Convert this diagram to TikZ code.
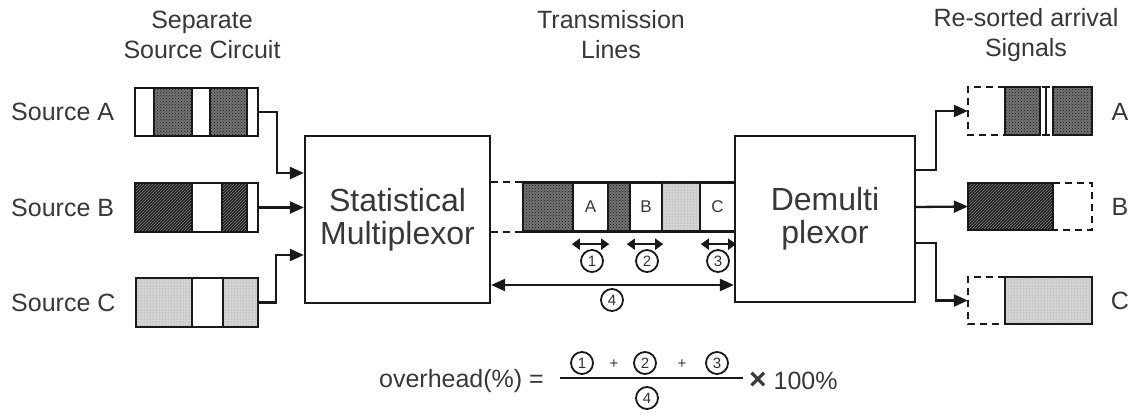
\documentclass[tikz,border=0pt]{standalone}
\usepackage{fontspec}
\setmainfont{Liberation Sans}
\usetikzlibrary{arrows.meta,patterns,calc}
\newcommand\bigfont{\fontsize{25}{30}\selectfont}
\newcommand\hugefont{\fontsize{32}{33}\selectfont}
\newcommand\smallfont{\fontsize{17}{20}\selectfont}
\newcommand\tinyfont{\fontsize{15}{17}\selectfont}
\begin{document}
\begin{tikzpicture}[x=1pt,y=-1pt,
  ln/.style={line width=2.3pt, draw=black!90},
  txt/.style={text=black!78, inner sep=0pt},
  blk/.style={ln, inner sep=0pt, fill=white},
  darkdot/.style={fill=black!55, postaction={pattern=crosshatch dots, pattern color=black!90}},
  darkhatch/.style={fill=black!88, postaction={pattern=north east lines, pattern color=black!50}},
  lightdot/.style={fill=black!17, postaction={pattern=dots, pattern color=black!45}},
  dsh/.style={line width=2.3pt, draw=black!90, dash pattern=on 7pt off 5pt},
  arr/.style={ln, -{Triangle[length=14pt,width=12pt]}},
  barr/.style={ln, {Triangle[length=14pt,width=12pt]}-{Triangle[length=14pt,width=12pt]}},
  sarr/.style={line width=2pt, draw=black!90, {Triangle[length=8pt,width=11pt]}-{Triangle[length=8pt,width=11pt]}},
  circ/.style={circle, draw=black!90, line width=1.8pt, minimum size=22pt, inner sep=0pt, font=\tinyfont, text=black!80}
]
\useasboundingbox (0,0) rectangle (1134,415);
\fill[white] (0,0) rectangle (1134,415);

% headers
\node[txt, align=center, font=\bigfont] (hdrL) at (202,35) {Separate\\Source Circuit};
\node[txt, align=center, font=\bigfont] (hdrM) at (611,35) {Transmission\\Lines};
\node[txt, align=center, font=\bigfont] (hdrR) at (1026,35) {Re-sorted arrival\\Signals};

% source labels
\node[txt, anchor=west, font=\bigfont] (lA) at (11,112) {Source A};
\node[txt, anchor=west, font=\bigfont] (lB) at (11,208) {Source B};
\node[txt, anchor=west, font=\bigfont] (lC) at (11,303) {Source C};

% source A cells
\path[darkdot] (154,88) rectangle (192,136);
\path[darkdot] (210,88) rectangle (247,136);
\draw[ln] (154,88) -- (154,136) (192,88) -- (192,136) (210,88) -- (210,136) (247,88) -- (247,136);
\node[ln, draw, inner sep=0pt, minimum width=123pt, minimum height=48pt] (srcA) at (196.5,112) {};
% source B cells
\path[darkhatch] (135,183) rectangle (192,232);
\path[darkhatch] (222,183) rectangle (247,232);
\draw[ln] (192,183) -- (192,232) (222,183) -- (222,232) (247,183) -- (247,232);
\node[ln, draw, inner sep=0pt, minimum width=123pt, minimum height=49pt] (srcB) at (196.5,207.5) {};
% source C cells
\path[lightdot] (136,278) rectangle (192,327);
\path[lightdot] (223,278) rectangle (258,327);
\draw[ln] (192,278) -- (192,327) (223,278) -- (223,327);
\node[ln, draw, inner sep=0pt, minimum width=122pt, minimum height=49pt] (srcC) at (197,302.5) {};

% multiplexor and demultiplexor
\node[blk, draw, minimum width=185pt, minimum height=167pt, align=center, font=\hugefont, text=black!78] (mux) at (397.5,219.5) {Statistical\\Multiplexor};
\node[blk, draw, minimum width=180pt, minimum height=166pt, align=center, font=\hugefont, text=black!78] (demux) at (825,219) {Demulti\\plexor};

% source arrows
\draw[arr] (srcA.east) -- ++(18,0) |- ([yshift=46.5pt]mux.west);
\draw[arr] (srcB.east) -- (srcB.east -| mux.west);
\draw[arr] (srcC.east) -- ++(17,0) |- ([yshift=-35.5pt]mux.west);

% transmission line cells
\node[ln, draw, darkdot, inner sep=0pt, minimum width=50pt, minimum height=48pt] (cD1) at (548,207) {};
\node[ln, draw, fill=white, inner sep=0pt, minimum width=35pt, minimum height=48pt, font=\smallfont, text=black!78] (cellA) at (590.5,207) {A};
\node[ln, draw, darkdot, inner sep=0pt, minimum width=22pt, minimum height=48pt] (cD2) at (619,207) {};
\node[ln, draw, fill=white, inner sep=0pt, minimum width=32pt, minimum height=48pt, font=\smallfont, text=black!78] (cellB) at (646,207) {B};
\node[ln, draw, lightdot, inner sep=0pt, minimum width=38pt, minimum height=48pt] (cD3) at (681,207) {};
\node[ln, draw, fill=white, inner sep=0pt, minimum width=35pt, minimum height=48pt, font=\smallfont, text=black!78] (cellC) at (717.5,207) {C};
\draw[ln] (cD1.north west) -- (cellC.north east) (cD1.south west) -- (cellC.south east);
\draw[dsh] (cD1.north west) -- (cD1.north west -| mux.east);
\draw[dsh] (cD1.south west) -- (cD1.south west -| mux.east);

% overhead arrows
\draw[sarr] ([yshift=-12pt]cellA.south west) -- ([yshift=-12pt]cellA.south east);
\draw[sarr] ([yshift=-12pt,xshift=-2pt]cellB.south west) -- ([yshift=-12pt]cellB.south east);
\draw[sarr] ([yshift=-12pt,xshift=2pt]cellC.south west) -- ([yshift=-12pt]cellC.south east);
\node[circ] (c1) at (592,261) {1};
\node[circ] (c2) at (647,261) {2};
\node[circ] (c3) at (718,261) {3};
\draw[barr] ([yshift=-65.5pt]mux.east) -- ([yshift=-66pt]demux.west);
\node[circ] (c4) at (612,300) {4};

% output arrows
\node[inner sep=0pt, minimum width=124pt, minimum height=48pt] (outA) at (1030,111) {};
\node[inner sep=0pt, minimum width=124pt, minimum height=47pt] (outB) at (1030,206.5) {};
\node[inner sep=0pt, minimum width=124pt, minimum height=47pt] (outC) at (1030,300.5) {};
\draw[arr] ([yshift=49pt]demux.east) -- ++(20,0) |- (outA.west);
\draw[arr] ([yshift=12pt]demux.east) -- (outB.west);
\draw[arr] ([yshift=-24pt]demux.east) -- ++(20,0) |- (outC.west);

% output A
\draw[dsh] (1005,87) -- (968,87) -- (968,135) -- (1005,135);
\path[darkdot] (1005,87) rectangle (1040,135);
\draw[ln] (1005,87) rectangle (1040,135);
\path[darkdot] (1053,87) rectangle (1092,135);
\draw[ln] (1053,87) rectangle (1092,135);
\draw[ln] (1046,87) -- (1046,135) (1042,87) -- (1050,87) (1042,135) -- (1050,135);
% output B
\path[darkhatch] (968,183) rectangle (1053,230);
\draw[ln] (968,183) rectangle (1053,230);
\draw[dsh] (1053,183) -- (1092,183) -- (1092,230) -- (1053,230);
% output C
\draw[dsh] (1005,277) -- (968,277) -- (968,324) -- (1005,324);
\path[lightdot] (1005,277) rectangle (1092,324);
\draw[ln] (1005,277) rectangle (1092,324);

\node[txt, font=\bigfont] (oA) at (1120,112) {A};
\node[txt, font=\bigfont] (oB) at (1120,207) {B};
\node[txt, font=\bigfont] (oC) at (1120,301) {C};

% formula
\node[txt, anchor=east, font=\bigfont] (ovh) at (544,381) {overhead(\%) =};
\coordinate (fracL) at (560,378);
\coordinate (fracR) at (743,378);
\draw[ln] (fracL) -- (fracR);
\node[circ] (n1) at (582,363) {1};
\node[txt, font=\tinyfont] (p1) at (614,364) {+};
\node[circ] (n2) at (645,363) {2};
\node[txt, font=\tinyfont] (p2) at (682,364) {+};
\node[circ] (n3) at (717,363) {3};
\node[circ] (d4) at (647,398) {4};
\node[txt, anchor=west, font=\bigfont] (times) at (749,381) {{\fontsize{30}{30}\selectfont\bfseries ×} 100\%};
\end{tikzpicture}
\end{document}
